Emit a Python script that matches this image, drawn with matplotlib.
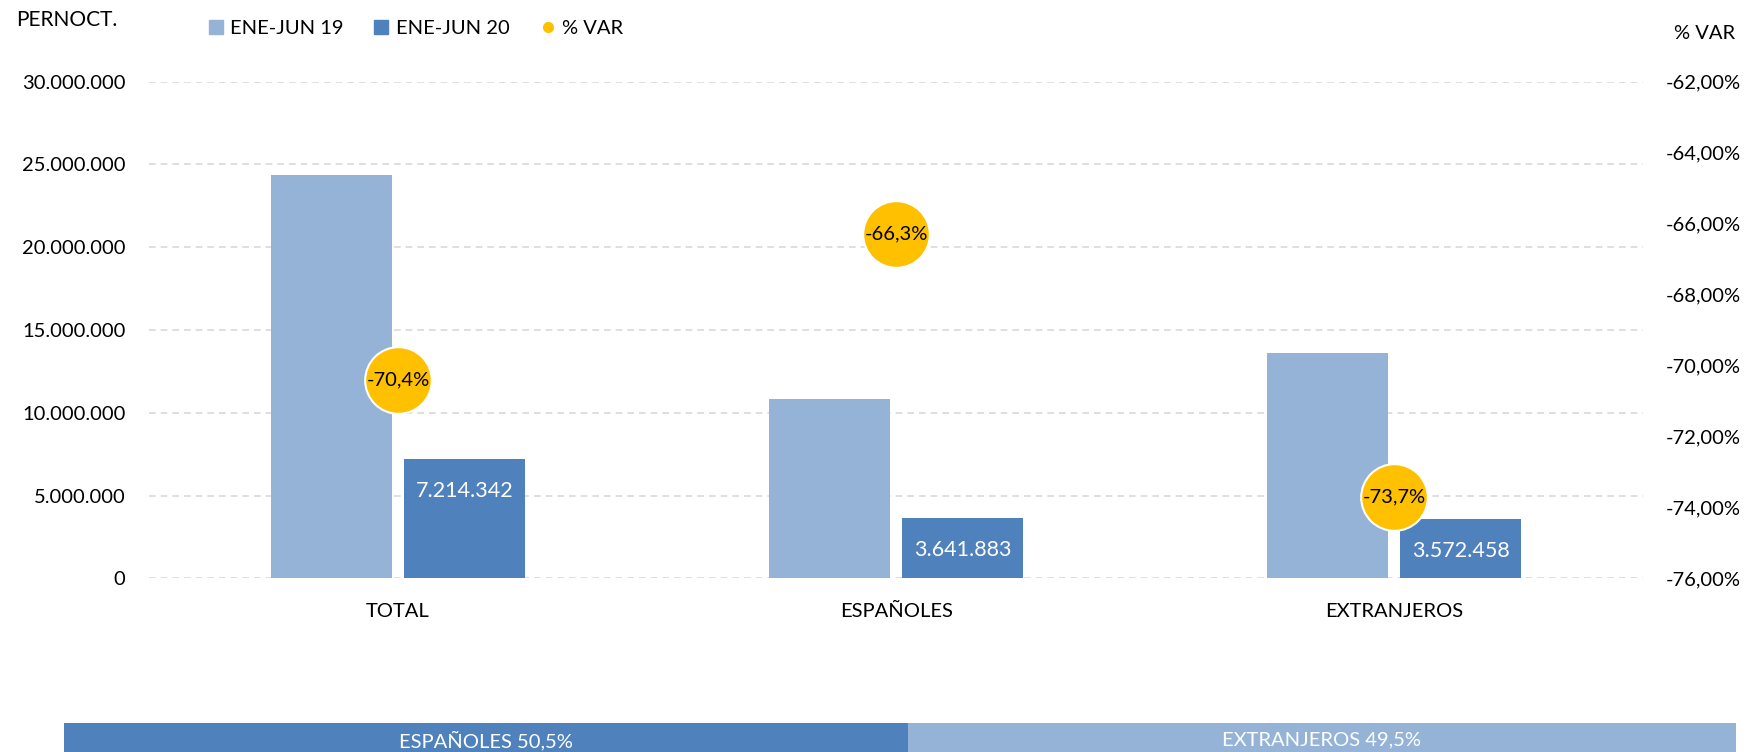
import matplotlib.pyplot as plt
from matplotlib.lines import Line2D
import numpy as np

plt.rcParams['font.family'] = ['Lato', 'DejaVu Sans']

categorias = ["TOTAL", "ESPAÑOLES", "EXTRANJEROS"]
ene_jun_19 = [24390000, 10810000, 13580000]
ene_jun_20 = [7214342, 3641883, 3572458]
var_pct = [-70.4, -66.3, -73.7]
reparto_labels = ["ESPAÑOLES 50,5%", "EXTRANJEROS 49,5%"]
reparto = [50.5, 49.5]

c19 = "#95B3D7"
c20 = "#4F81BD"
cvar = "#FFC000"
fs = 14.5


def miles(v):
    return f"{v:,.0f}".replace(",", ".")


fig = plt.figure(figsize=(17.54, 7.52), dpi=100)
ax = fig.add_axes([0.085, 0.231, 0.8518, 0.6604])
ax2 = ax.twinx()

x = np.arange(len(categorias))
w = 0.243
g = 0.025
b1 = ax.bar(x - w / 2 - g / 2, ene_jun_19, w, color=c19, zorder=2)
b2 = ax.bar(x + w / 2 + g / 2, ene_jun_20, w, color=c20, zorder=2)
for rect, v in zip(b2, ene_jun_20):
    ax.annotate(miles(v), (rect.get_x() + rect.get_width() / 2, rect.get_height()),
                xytext=(0, -23), textcoords="offset points", ha="center", va="center",
                color="white", fontsize=fs + 1)

ax.set_xlim(-0.5, 2.5)
ax.set_ylim(0, 30000000)
ax.set_yticks(np.arange(0, 30000001, 5000000))
ax.set_yticklabels([miles(t) for t in np.arange(0, 30000001, 5000000)])
ax.yaxis.grid(True, color="#D9D9D9", linestyle=(0, (4, 3)), linewidth=1.2, zorder=0)
ax.set_axisbelow(True)
ax.set_xticks(x)
ax.set_xticklabels(categorias)
ax.tick_params(axis="both", length=0, labelsize=fs)
ax.tick_params(axis="y", pad=17)
ax.tick_params(axis="x", pad=18)
for s in ax.spines.values():
    s.set_visible(False)

ax2.plot(x, var_pct, linestyle="none", marker="o", markersize=48, color=cvar,
         markeredgecolor="white", markeredgewidth=1.5, zorder=5)
for xi, v in zip(x, var_pct):
    ax2.text(xi, v, f"{v:.1f}%".replace(".", ","), ha="center", va="center",
             fontsize=fs, color="black", zorder=6)
ax2.set_ylim(-76, -62)
ax2.set_yticks(np.arange(-76, -61, 2))
ax2.set_yticklabels([f"{t:.2f}%".replace(".", ",") for t in np.arange(-76, -61, 2)])
ax2.tick_params(axis="y", length=0, labelsize=fs, pad=16)
for s in ax2.spines.values():
    s.set_visible(False)

fig.text(0.009, 0.973, "PERNOCT.", fontsize=fs + 0.5, va="center", ha="left")
fig.text(0.989, 0.955, "% VAR", fontsize=fs, va="center", ha="right")

handles = [
    Line2D([], [], linestyle="none", marker="s", markersize=10, color=c19),
    Line2D([], [], linestyle="none", marker="s", markersize=10, color=c20),
    Line2D([], [], linestyle="none", marker="o", markersize=7, color=cvar),
]
fig.legend(handles, ["ENE-JUN 19", "ENE-JUN 20", "% VAR"], loc="center left",
           bbox_to_anchor=(0.108, 0.962), ncol=3, frameon=False, fontsize=fs,
           handlelength=0.8, handletextpad=0.3, columnspacing=1.5)

axb = fig.add_axes([0.0365, 0.0, 0.953, 0.039])
left = 0
for val, lab, col in zip(reparto, reparto_labels, [c20, c19]):
    axb.barh(0, val, left=left, height=1, color=col)
    axb.text(left + val / 2, -0.1, lab, ha="center", va="center", color="white", fontsize=fs)
    left += val
axb.set_xlim(0, 100)
axb.set_ylim(-0.5, 0.5)
axb.axis("off")

fig.savefig("out.png", dpi=100)
